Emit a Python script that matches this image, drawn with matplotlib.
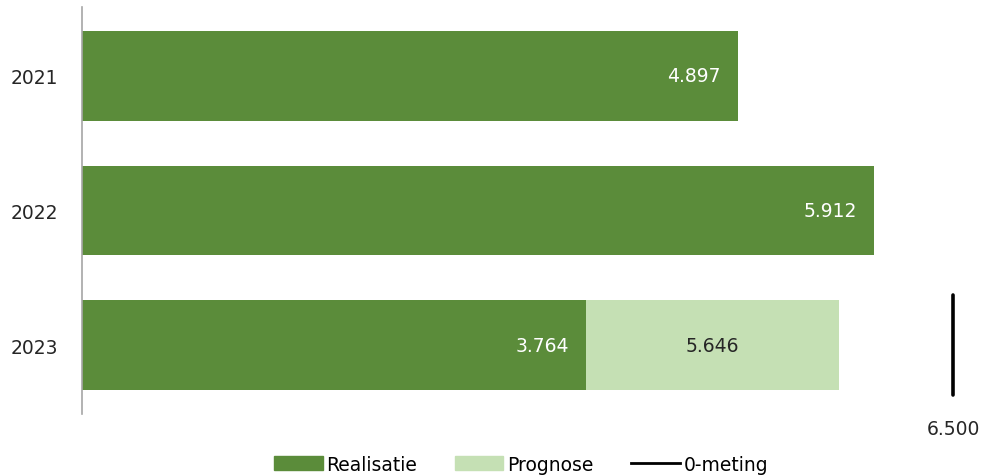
import matplotlib.pyplot as plt
from matplotlib.patches import Patch
from matplotlib.lines import Line2D

years = ["2021", "2022", "2023"]
realisatie = [4897, 5912, 3764]
prognose = [0, 0, 5646]       # totaal incl. realisatie, alleen 2023
nulmeting = 6500              # 0-meting, getoond bij 2023

donker = "#5B8C3A"
licht = "#C5E0B4"
fs = 13.5

def fmt(v):
    return f"{v:,}".replace(",", ".")

fig = plt.figure(figsize=(9.83, 4.77), dpi=100)
ax = fig.add_axes([0.0834, 0.130, 0.915, 0.853])

pos = list(range(len(years)))
prog_len = [p - r if p else 0 for p, r in zip(prognose, realisatie)]

ax.barh(pos, realisatie, height=0.667, color=donker)
ax.barh(pos, prog_len, left=realisatie, height=0.667, color=licht)

for i, r in enumerate(realisatie):
    ax.text(r - 130, i, fmt(r), color="white", fontsize=fs, ha="right", va="center")
    if prognose[i]:
        ax.text((r + prognose[i]) / 2, i, fmt(prognose[i]), color="#262626",
                fontsize=fs, ha="center", va="center")

# 0-meting
ax.plot([nulmeting, nulmeting], [2 - 0.37, 2 + 0.37], color="black", lw=2.6,
        solid_capstyle="round")
ax.text(nulmeting, 2.62, fmt(nulmeting), ha="center", va="center",
        fontsize=fs, color="#262626")

ax.set_xlim(0, 6711)
ax.set_ylim(2.51, -0.51)
ax.set_yticks(pos)
ax.set_yticklabels(years, fontsize=fs, color="#262626")
ax.tick_params(axis="y", length=0, pad=17)
ax.set_xticks([])
for s in ["top", "right", "bottom"]:
    ax.spines[s].set_visible(False)
ax.spines["left"].set_color("#A6A6A6")
ax.spines["left"].set_linewidth(1.2)

handles = [Patch(color=donker, label="Realisatie"),
           Patch(color=licht, label="Prognose"),
           Line2D([0], [0], color="black", lw=2, label="0-meting")]
fig.legend(handles=handles, loc="center", bbox_to_anchor=(0.53, 0.025),
           ncol=3, frameon=False, fontsize=fs, handlelength=2.6,
           handleheight=0.8, handletextpad=0.2, columnspacing=2.0)

fig.savefig("out.png", dpi=100)
